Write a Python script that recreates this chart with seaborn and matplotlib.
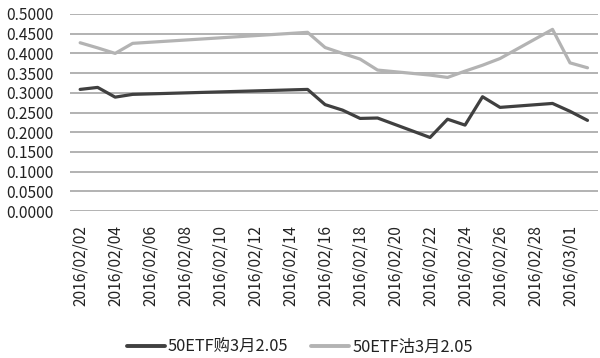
import matplotlib
matplotlib.use("Agg")
import matplotlib.pyplot as plt
import matplotlib.dates as mdates
import seaborn as sns
import pandas as pd
import numpy as np

dates = ["2016-02-02", "2016-02-03", "2016-02-04", "2016-02-05",
         "2016-02-15", "2016-02-16", "2016-02-17", "2016-02-18", "2016-02-19",
         "2016-02-22", "2016-02-23", "2016-02-24", "2016-02-25", "2016-02-26",
         "2016-02-29", "2016-03-01", "2016-03-02"]
call_vals = [0.3086, 0.3137, 0.2890, 0.2960,
             0.3086, 0.2700, 0.2560, 0.2350, 0.2360,
             0.1866, 0.2330, 0.2180, 0.2900, 0.2630,
             0.2730, 0.2530, 0.2300]
put_vals = [0.4270, 0.4140, 0.4000, 0.4255,
            0.4535, 0.4150, 0.4000, 0.3856, 0.3577,
            0.3450, 0.3390, 0.3550, 0.3700, 0.3870,
            0.4610, 0.3760, 0.3635]
series_names = ["50ETF购3月2.05", "50ETF沽3月2.05"]
tick_labels = ["2016/02/02", "2016/02/04", "2016/02/06", "2016/02/08",
               "2016/02/10", "2016/02/12", "2016/02/14", "2016/02/16",
               "2016/02/18", "2016/02/20", "2016/02/22", "2016/02/24",
               "2016/02/26", "2016/02/28", "2016/03/01"]
y_ticks = [0.0, 0.05, 0.1, 0.15, 0.2, 0.25, 0.3, 0.35, 0.4, 0.45, 0.5]

sns.set_theme(style="white")
plt.rcParams['font.family'] = ['Noto Sans CJK SC', 'DejaVu Sans']

df = pd.DataFrame({
    "date": pd.to_datetime(dates * 2),
    "value": call_vals + put_vals,
    "series": [series_names[0]] * len(dates) + [series_names[1]] * len(dates),
})

fig = plt.figure(figsize=(6.0, 3.58), dpi=100)
ax = fig.add_axes([70 / 600, 1 - 211 / 358, 528 / 600, 197 / 358])

sns.lineplot(data=df, x="date", y="value", hue="series",
             palette={series_names[0]: "#404040", series_names[1]: "#b3b3b3"},
             linewidth=2.3, ax=ax, legend=False)

ax.set_ylim(0, 0.5)
ax.set_yticks(y_ticks)
ax.set_yticklabels([f"{v:.4f}" for v in y_ticks])
ax.yaxis.grid(True, color="#a6a6a6", linewidth=1.2)
ax.set_axisbelow(True)

tick_dates = pd.to_datetime([t.replace("/", "-") for t in tick_labels])
ax.set_xticks(mdates.date2num(tick_dates))
ax.set_xticklabels(tick_labels, rotation=90)
d0 = mdates.date2num(pd.to_datetime(dates[0]))
d1 = mdates.date2num(pd.to_datetime(dates[-1]))
ax.set_xlim(d0 - 0.58, d1 + 0.6)

for s in ax.spines.values():
    s.set_visible(False)
ax.tick_params(axis="x", length=0, pad=10, labelsize=11.2, labelcolor="#222222")
ax.tick_params(axis="y", length=0, pad=12, labelsize=11.2, labelcolor="#222222")
ax.set_xlabel("")
ax.set_ylabel("")

from matplotlib.lines import Line2D
handles = [Line2D([], [], color="#404040", linewidth=2.8),
           Line2D([], [], color="#b3b3b3", linewidth=2.8)]
fig.legend(handles, series_names, loc="center", bbox_to_anchor=(0.5, 1 - 347 / 358),
           ncol=2, frameon=False, handlelength=2.3, handletextpad=0.2,
           columnspacing=1.4, fontsize=11.8, labelcolor="#222222")

fig.savefig("out.png", dpi=100, facecolor="white")
